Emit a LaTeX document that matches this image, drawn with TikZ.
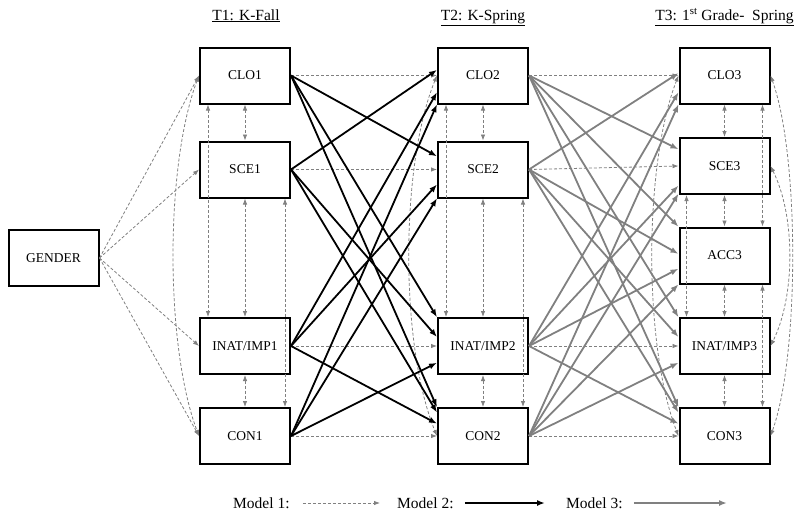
\documentclass[tikz,border=0pt]{standalone}
\usepackage{fontspec}
\setmainfont{Liberation Serif}
\usetikzlibrary{arrows.meta}
\definecolor{mgray}{RGB}{128,128,128}
\tikzset{
  var/.style={draw, line width=2pt, minimum width=90pt, minimum height=56pt, inner sep=0pt, font=\fontsize{13.5}{16}\selectfont},
  hdr/.style={anchor=base, font=\fontsize{15.5}{18}\selectfont},
  leg/.style={anchor=west, inner sep=0pt, font=\fontsize{15.5}{18}\selectfont},
  mone/.style={mgray, line width=0.8pt, dash pattern=on 3pt off 2pt, -{Latex[length=6pt,width=4.5pt]}},
  mboth/.style={mone, {Latex[length=6pt,width=4.5pt]}-{Latex[length=6pt,width=4.5pt]}},
  mtwo/.style={black, line width=1.8pt, -{Latex[length=8pt,width=6pt]}},
  mthree/.style={mgray, line width=1.8pt, -{Latex[length=8pt,width=6pt]}}
}
\begin{document}
\begin{tikzpicture}[x=1pt,y=-1pt]
\useasboundingbox (0,0) rectangle (800,517);
\node[hdr] (t1) at (246,20) {\underline{T1: K-Fall}};
\node[hdr] (t2) at (483,20) {\underline{T2: K-Spring}};
\node[hdr] (t3) at (724.5,20) {\underline{T3: 1\textsuperscript{st} Grade-\ \ Spring}};

\node[var] (gen) at (53.5,258) {GENDER};
\node[var] (clo1) at (245,75.5) {CLO1};
\node[var] (sce1) at (245,169.5) {SCE1};
\node[var] (ina1) at (245,346) {INAT/IMP1};
\node[var] (con1) at (245,436) {CON1};
\node[var] (clo2) at (483,75.5) {CLO2};
\node[var] (sce2) at (483,169.5) {SCE2};
\node[var] (ina2) at (483,346) {INAT/IMP2};
\node[var] (con2) at (483,436) {CON2};
\node[var] (clo3) at (724.5,75.5) {CLO3};
\node[var] (sce3) at (724.5,166) {SCE3};
\node[var] (acc3) at (724.5,255.5) {ACC3};
\node[var] (ina3) at (724.5,346) {INAT/IMP3};
\node[var] (con3) at (724.5,436) {CON3};

% model 1
\foreach \t in {clo1,sce1,ina1,con1} \draw[mone] (gen.east) -- (\t.west);
\foreach \a/\b in {clo1/clo2,sce1/sce2,ina1/ina2,con1/con2,clo2/clo3,sce2/sce3,ina2/ina3,con2/con3}
  \draw[mone] (\a.east) -- (\b.west);
\foreach \c in {1,2} {
  \draw[mboth] (clo\c.south) -- (sce\c.north);
  \draw[mboth] (sce\c.south) -- (ina\c.north);
  \draw[mboth] (ina\c.south) -- (con\c.north);
  \draw[mboth] ([xshift=-37pt]clo\c.south) -- ([xshift=-37pt]ina\c.north);
  \draw[mboth] ([xshift=40pt]sce\c.south) -- ([xshift=40pt]con\c.north);
}
\draw[mboth] (clo3.south) -- (sce3.north);
\draw[mboth] (sce3.south) -- (acc3.north);
\draw[mboth] (acc3.south) -- (ina3.north);
\draw[mboth] (ina3.south) -- (con3.north);
\draw[mboth] ([xshift=-38pt]sce3.south) -- ([xshift=-38pt]ina3.north);
\draw[mboth] ([xshift=38pt]clo3.south) -- ([xshift=38pt]acc3.north);
\draw[mboth] ([xshift=38pt]acc3.south) -- ([xshift=38pt]con3.north);
\draw[mboth] (clo1.west) .. controls +(-34,90) and +(-34,-90) .. (con1.west);
\draw[mboth] (clo2.west) .. controls +(-37,90) and +(-37,-90) .. (con2.west);
\draw[mboth] (clo3.west) .. controls +(-35,90) and +(-35,-90) .. (con3.west);
\draw[mboth] (clo3.east) .. controls +(29,80) and +(29,-80) .. (con3.east);
\draw[mboth] (sce3.east) .. controls +(25,50) and +(25,-50) .. (ina3.east);

% model 2
\foreach \a/\b in {sce1/clo2.173,ina1/clo2.200,con1/clo2.212,clo1/sce2.164,ina1/sce2.198,con1/sce2.212,
  clo1/ina2.148,sce1/ina2.169,con1/ina2.200,clo1/con2.148,sce1/con2.153,ina1/con2.165}
  \draw[mtwo] (\a.east) -- (\b);

% model 3
\foreach \a/\b in {sce2/clo3.177,ina2/clo3.200,con2/clo3.212,clo2/sce3.160,ina2/sce3.203,con2/sce3.211,
  clo2/acc3.148,sce2/acc3.178,ina2/acc3.196,con2/acc3.212,clo2/ina3.148,sce2/ina3.169,con2/ina3.200,
  clo2/con3.148,sce2/con3.153,ina2/con3.165}
  \draw[mthree] (\a.east) -- (\b);

\node[leg] (lg1) at (233,503) {Model 1:};
\node[leg] (lg2) at (397,503) {Model 2:};
\node[leg] (lg3) at (566,503) {Model 3:};
\coordinate (le1) at (380,503);
\coordinate (le2) at (545,503);
\coordinate (le3) at (727,503);
\draw[mone] ([xshift=13pt]lg1.east) -- (le1);
\draw[mtwo] ([xshift=11pt]lg2.east) -- (le2);
\draw[mthree] ([xshift=11pt]lg3.east) -- (le3);
\end{tikzpicture}
\end{document}
